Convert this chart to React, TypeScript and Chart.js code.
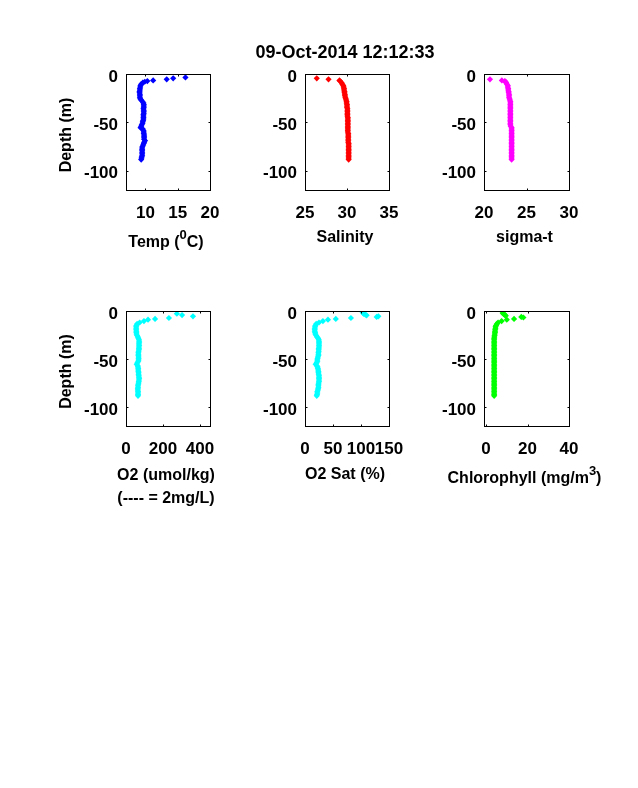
import React, { useEffect, useRef } from "react";
import { Chart, registerables } from "chart.js";

Chart.register(...registerables);

const pageTitle = "09-Oct-2014 12:12:33";
const depthTicks = [0, -50, -100];

const deepDepth = [-9, -10.5, -12, -13.5, -15, -16.5, -18, -19.5, -21, -22.5, -24, -25.5, -27, -28.5, -30, -31.5, -33, -34.5, -36, -37.5, -39, -40.5, -42, -43.5, -45, -46.5, -48, -49.5, -51, -52.5, -54, -55.5, -57, -58.5, -60, -61.5, -63, -64.5, -66, -67.5, -69, -70.5, -72, -73.5, -75, -76.5, -78, -79.5, -81, -82.5, -84, -85.5, -87, -88.5];

const tempSurfaceDepth = [-3.5, -4.5, -5.5, -6.6, -7.3, -8];
const tempSurface = [16.2, 14.3, 13.3, 11.2, 10.3, 9.9];
const tempDeep = [9.6, 9.35, 9.25, 9.2, 9.15, 9.15, 9.1, 9.1, 9.15, 9.15, 9.15, 9.2, 9.35, 9.55, 9.7, 9.75, 9.75, 9.75, 9.7, 9.75, 9.75, 9.75, 9.7, 9.7, 9.7, 9.7, 9.65, 9.6, 9.55, 9.45, 9.35, 9.25, 9.6, 9.7, 9.75, 9.75, 9.8, 9.8, 9.8, 9.8, 9.95, 9.8, 9.75, 9.65, 9.55, 9.5, 9.5, 9.5, 9.5, 9.5, 9.5, 9.45, 9.4, 9.35];

const salSurfaceDepth = [-4.5, -5.5, -6.6, -7.5];
const salSurface = [26.4, 27.8, 29.1, 29.2];
const salDeep = [29.35, 29.45, 29.55, 29.6, 29.65, 29.65, 29.7, 29.7, 29.75, 29.75, 29.8, 29.85, 29.9, 29.95, 29.95, 30.0, 30.0, 30.0, 30.05, 30.05, 30.05, 30.05, 30.05, 30.05, 30.1, 30.1, 30.1, 30.1, 30.1, 30.1, 30.1, 30.1, 30.1, 30.1, 30.1, 30.15, 30.15, 30.15, 30.15, 30.15, 30.15, 30.15, 30.2, 30.2, 30.2, 30.2, 30.2, 30.2, 30.2, 30.2, 30.2, 30.2, 30.2, 30.2];

const sigmaSurfaceDepth = [-5.5, -6.6, -7.3, -8.2];
const sigmaSurface = [20.7, 22.1, 22.45, 22.55];
const sigmaDeep = [22.6, 22.7, 22.8, 22.8, 22.85, 22.85, 22.9, 22.9, 22.95, 22.95, 22.95, 23.0, 23.05, 23.1, 23.1, 23.1, 23.1, 23.1, 23.1, 23.1, 23.1, 23.1, 23.1, 23.1, 23.1, 23.1, 23.1, 23.1, 23.1, 23.1, 23.15, 23.25, 23.25, 23.25, 23.25, 23.25, 23.25, 23.25, 23.25, 23.25, 23.25, 23.25, 23.25, 23.25, 23.25, 23.25, 23.25, 23.25, 23.25, 23.25, 23.25, 23.25, 23.25, 23.25];

const oxySurfaceDepth = [-2.8, -4.2, -5.6, -7.3, -8.3];
const oxySurface = [275, 303, 362, 232, 157];
const oxyDeep = [119, 97, 74, 60, 56, 55, 55, 55, 56, 56, 57, 60, 64, 67, 70, 71, 71, 70, 71, 70, 70, 70, 68, 67, 67, 67, 68, 68, 68, 66, 62, 58, 63, 65, 66, 66, 67, 68, 68, 69, 70, 71, 70, 69, 68, 66, 65, 65, 64, 64, 65, 65, 65, 65];

const satSurfaceDepth = [-1.4, -2.2, -3, -3.8, -4.5, -5.6, -6.2, -7.3, -8.3];
const satSurface = [103, 104, 105, 108, 110, 131, 128, 82, 55];
const satDeep = [41, 32, 25, 20, 18.5, 18, 17.5, 17.5, 17.5, 18, 18.5, 20, 21.5, 23.5, 24.5, 25, 25, 25, 25, 25, 24.5, 24.5, 24.5, 24, 24, 24, 23, 22.5, 22, 22, 21, 19, 21, 22.5, 23, 23.5, 24, 24, 24.5, 25, 25, 25, 25, 25, 24.5, 24, 24, 24, 23.5, 23, 22, 22, 21.5, 21];

const chlSurfaceDepth = [-2, -2.8, -3.5, -4.2, -4.9, -6.2, -6.8, -8.3];
const chlSurface = [8, 8.3, 8.7, 9.1, 9.5, 17, 18, 13.5];
const chlDeep = [10, 7.5, 5.8, 5.2, 4.8, 4.6, 4.5, 4.4, 4.3, 4.3, 4.2, 4.1, 4.0, 3.9, 3.9, 3.9, 3.9, 3.9, 3.9, 3.9, 3.9, 3.9, 3.9, 3.9, 3.9, 3.9, 3.9, 3.9, 3.9, 3.9, 3.9, 3.9, 3.9, 3.9, 3.9, 3.9, 3.9, 3.9, 3.9, 3.9, 3.9, 3.9, 3.9, 3.9, 3.9, 3.9, 3.9, 3.9, 3.9, 3.9, 3.9, 3.9, 3.9, 3.9];

const tempTicks = [10, 15, 20];
const salTicks = [25, 30, 35];
const sigmaTicks = [20, 25, 30];
const oxyTicks = [0, 200, 400];
const satTicks = [0, 50, 100, 150];
const chlTicks = [0, 20, 40];

const FONT = "'Liberation Sans', Arial, sans-serif";
const CANVAS_LEFT = 70;
const CANVAS_RIGHT = 68;
const CANVAS_TOP = 26;
const CANVAS_BOTTOM = 95;

type Run = { text: string; sup?: boolean };
type Line = { runs: Run[]; baseline: number };
type Panel = {
  left: number; top: number; w: number; h: number;
  xs: number[]; ys: number[]; color: string;
  xMin: number; xMax: number; xTicks: number[];
  lines: Line[]; yTitle?: string;
};

const panels: Panel[] = [
  { left: 126, top: 74, w: 84, h: 116, xs: [...tempSurface, ...tempDeep], ys: [...tempSurfaceDepth, ...deepDepth], color: "#0000ff", xMin: 7, xMax: 20, xTicks: tempTicks, lines: [{ baseline: 57, runs: [{ text: "Temp (" }, { text: "0", sup: true }, { text: "C)" }] }], yTitle: "Depth (m)" },
  { left: 305, top: 74, w: 84, h: 116, xs: [...salSurface, ...salDeep], ys: [...salSurfaceDepth, ...deepDepth], color: "#ff0000", xMin: 25, xMax: 35, xTicks: salTicks, lines: [{ baseline: 52, runs: [{ text: "Salinity" }] }] },
  { left: 484, top: 74, w: 85, h: 116, xs: [...sigmaSurface, ...sigmaDeep], ys: [...sigmaSurfaceDepth, ...deepDepth], color: "#ff00ff", xMin: 20, xMax: 30, xTicks: sigmaTicks, lines: [{ baseline: 52, runs: [{ text: "sigma-t" }] }] },
  { left: 126, top: 311, w: 84, h: 115, xs: [...oxySurface, ...oxyDeep], ys: [...oxySurfaceDepth, ...deepDepth], color: "#00ffff", xMin: 0, xMax: 454, xTicks: oxyTicks, lines: [{ baseline: 54, runs: [{ text: "O2 (umol/kg)" }] }, { baseline: 77, runs: [{ text: "(---- = 2mg/L)" }] }], yTitle: "Depth (m)" },
  { left: 305, top: 311, w: 84, h: 115, xs: [...satSurface, ...satDeep], ys: [...satSurfaceDepth, ...deepDepth], color: "#00ffff", xMin: 0, xMax: 150, xTicks: satTicks, lines: [{ baseline: 53, runs: [{ text: "O2 Sat (%)" }] }] },
  { left: 484, top: 311, w: 85, h: 115, xs: [...chlSurface, ...chlDeep], ys: [...chlSurfaceDepth, ...deepDepth], color: "#00ff00", xMin: -1, xMax: 40, xTicks: chlTicks, lines: [{ baseline: 57, runs: [{ text: "Chlorophyll (mg/m" }, { text: "3", sup: true }, { text: ")" }] }] },
];

const boxAndTicks = {
  id: "boxAndTicks",
  afterDraw(chart: any, _args: any, opts: any) {
    const { ctx, chartArea: a, scales } = chart;
    const p: Panel = opts.panel;
    const L = Math.round(a.left) + 0.5, R = Math.round(a.right) + 0.5;
    const T = Math.round(a.top) + 0.5, B = Math.round(a.bottom) + 0.5;
    ctx.save();
    ctx.strokeStyle = "#000";
    ctx.lineWidth = 1;
    ctx.strokeRect(L, T, R - L, B - T);
    ctx.beginPath();
    for (const t of scales.x.ticks) {
      const x = Math.round(scales.x.getPixelForValue(t.value)) + 0.5;
      ctx.moveTo(x, B); ctx.lineTo(x, B - 2);
      ctx.moveTo(x, T); ctx.lineTo(x, T + 2);
    }
    for (const t of scales.y.ticks) {
      const y = Math.round(scales.y.getPixelForValue(t.value)) + 0.5;
      ctx.moveTo(L, y); ctx.lineTo(L + 2, y);
      ctx.moveTo(R, y); ctx.lineTo(R - 2, y);
    }
    ctx.stroke();

    // Axis titles: Chart.js squeezes a scale title into the plot width, and has no superscript.
    ctx.fillStyle = "#000";
    ctx.textAlign = "left";
    ctx.textBaseline = "alphabetic";
    const base = `bold 16px ${FONT}`;
    const sup = `bold 13px ${FONT}`;
    const cx = a.left + a.width / 2 - 2;
    for (const line of p.lines) {
      let total = 0;
      for (const r of line.runs) {
        ctx.font = r.sup ? sup : base;
        total += ctx.measureText(r.text).width;
      }
      let x = cx - total / 2;
      for (const r of line.runs) {
        ctx.font = r.sup ? sup : base;
        ctx.fillText(r.text, x, a.bottom + line.baseline - (r.sup ? 8 : 0));
        x += ctx.measureText(r.text).width;
      }
    }
    if (p.yTitle) {
      ctx.font = base;
      ctx.textAlign = "center";
      ctx.translate(a.left - 55, a.top + a.height / 2 + 3);
      ctx.rotate(-Math.PI / 2);
      ctx.fillText(p.yTitle, 0, 0);
    }
    ctx.restore();
  },
};

function PanelChart({ p }: { p: Panel }) {
  const ref = useRef<HTMLCanvasElement | null>(null);
  useEffect(() => {
    const chart = new Chart(ref.current as HTMLCanvasElement, {
      type: "scatter",
      data: {
        datasets: [{
          data: p.xs.map((x, i) => ({ x, y: p.ys[i] })),
          backgroundColor: p.color,
          borderColor: p.color,
          borderWidth: 0,
          pointStyle: "rectRot",
          pointRadius: 3.1,
        }],
      },
      options: {
        animation: false,
        responsive: false,
        devicePixelRatio: 1,
        layout: { padding: { left: 0, right: CANVAS_RIGHT, top: CANVAS_TOP, bottom: 0 } },
        plugins: { legend: { display: false }, tooltip: { enabled: false }, boxAndTicks: { panel: p } },
        scales: {
          x: {
            type: "linear",
            min: p.xMin,
            max: p.xMax,
            afterBuildTicks: (s: any) => { s.ticks = p.xTicks.map((value) => ({ value })); },
            afterFit: (s: any) => { s.height = CANVAS_BOTTOM; },
            grid: { display: false, tickLength: 0 },
            border: { display: false },
            ticks: {
              autoSkip: false, maxRotation: 0, minRotation: 0, padding: 13, color: "#000",
              font: { family: FONT, size: 17, weight: "bold" },
              callback: (v: any) => String(v),
            },
          },
          y: {
            type: "linear",
            min: -120,
            max: 0,
            afterBuildTicks: (s: any) => { s.ticks = depthTicks.map((value) => ({ value })); },
            afterFit: (s: any) => { s.width = CANVAS_LEFT; },
            grid: { display: false, tickLength: 0 },
            border: { display: false },
            ticks: {
              autoSkip: false, padding: 8, color: "#000", labelOffset: 3,
              font: { family: FONT, size: 17, weight: "bold" },
              callback: (v: any) => String(v),
            },
          },
        },
      } as any,
      plugins: [boxAndTicks],
    });
    return () => chart.destroy();
  }, [p]);
  return (
    <canvas
      ref={ref}
      width={CANVAS_LEFT + p.w + CANVAS_RIGHT}
      height={CANVAS_TOP + p.h + CANVAS_BOTTOM}
      style={{ position: "absolute", left: p.left - CANVAS_LEFT, top: p.top - CANVAS_TOP, display: "block" }}
    />
  );
}

export default function App() {
  return (
    <div style={{ position: "absolute", left: 0, top: 0, width: 638, height: 788, background: "#fff", overflow: "hidden" }}>
      {panels.map((p, i) => <PanelChart key={i} p={p} />)}
      <div style={{ position: "absolute", left: 145, width: 400, top: 42, textAlign: "center", font: `bold 18px ${FONT}`, color: "#000" }}>
        {pageTitle}
      </div>
    </div>
  );
}
